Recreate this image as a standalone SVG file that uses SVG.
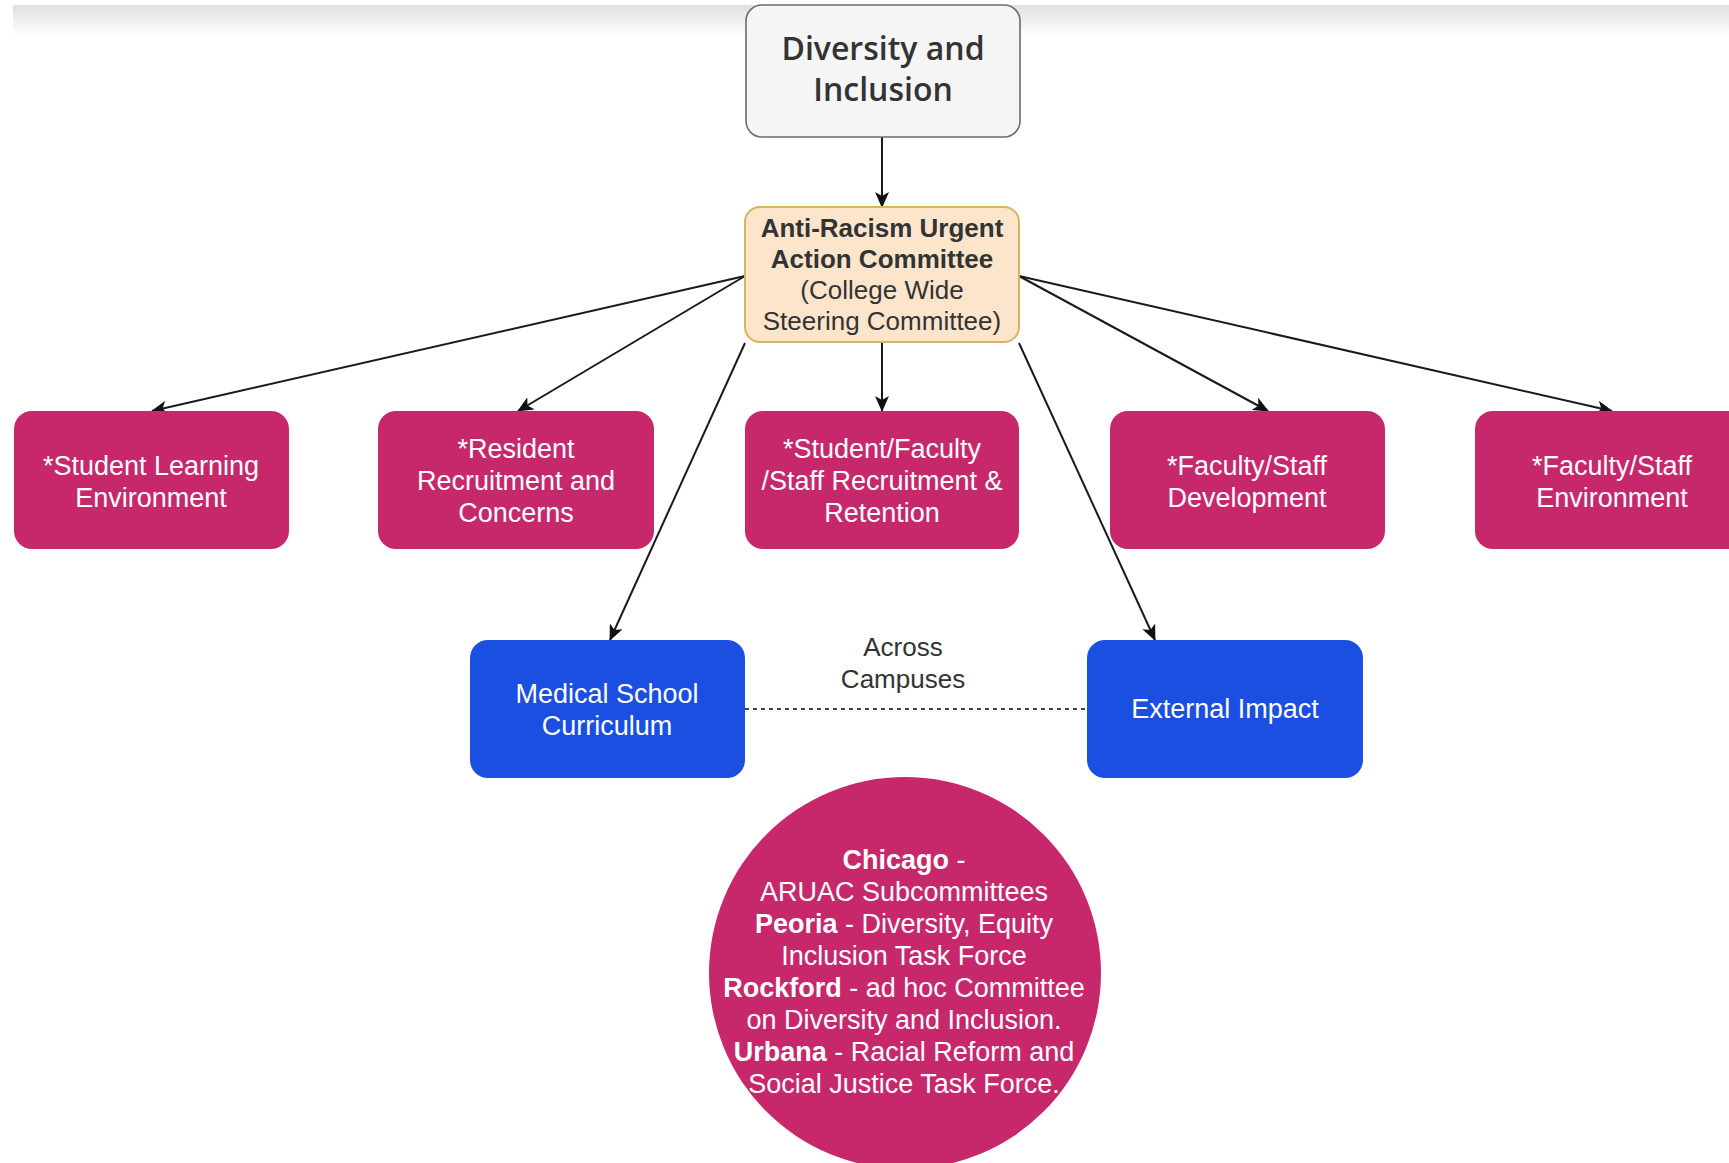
<svg xmlns="http://www.w3.org/2000/svg" width="1729" height="1163" viewBox="0 0 1729 1163">
<defs>
<linearGradient id="band" x1="0" y1="0" x2="0" y2="1">
<stop offset="0" stop-color="#e0e0e0"/>
<stop offset="1" stop-color="#ffffff"/>
</linearGradient>
<marker id="arr" viewBox="0 0 16 14" refX="15" refY="7" markerWidth="16" markerHeight="14" markerUnits="userSpaceOnUse" orient="auto">
<path d="M0,0 L16,7 L0,14 L4,7 z" fill="#111"/>
</marker>
<style>
.pink{fill:#c7286c;}
.blue{fill:#1b4fe2;}
.wt{font-family:"Liberation Sans",Arial,sans-serif;font-size:27px;fill:#ffffff;text-anchor:middle;}
.dk{font-family:"Liberation Sans",Arial,sans-serif;font-size:26px;fill:#333333;text-anchor:middle;}
.edge{stroke:#1a1a1a;stroke-width:2;fill:none;marker-end:url(#arr);}
.ttl{font-family:"Open Sans",sans-serif;font-weight:600;font-size:32px;fill:#333333;text-anchor:middle;}
</style>
</defs>
<rect x="0" y="0" width="1729" height="1163" fill="#ffffff"/>
<rect x="13" y="5" width="1716" height="32" fill="url(#band)"/>

<g id="connectors">
<line class="edge" x1="882" y1="137" x2="882" y2="207"/>
<line class="edge" x1="745" y1="276" x2="152" y2="411"/>
<line class="edge" x1="745" y1="276" x2="518" y2="411"/>
<line class="edge" x1="882" y1="343" x2="882" y2="411"/>
<line class="edge" x1="1019" y1="276" x2="1268" y2="411"/>
<line class="edge" x1="1019" y1="276" x2="1612" y2="411"/>
<line class="edge" x1="745" y1="343" x2="610" y2="640"/>
<line class="edge" x1="1019" y1="343" x2="1155" y2="640"/>
<line x1="745" y1="709" x2="1087" y2="709" stroke="#444" stroke-width="2" stroke-dasharray="4 4"/>
<text class="dk" x="903" y="656">Across</text>
<text class="dk" x="903" y="688">Campuses</text>
</g>

<g id="diversity">
<rect x="746" y="5" width="274" height="132" rx="16" fill="#f5f5f5" stroke="#6b6b6b" stroke-width="1.6"/>
<text class="ttl" x="883" y="60">Diversity and</text>
<text class="ttl" x="883" y="101">Inclusion</text>
</g>

<g id="aruac">
<rect x="745" y="207" width="274" height="135" rx="15" fill="#fde5cc" stroke="#d8b45a" stroke-width="2"/>
<text class="dk" x="882" y="237" font-weight="bold">Anti-Racism Urgent</text>
<text class="dk" x="882" y="268" font-weight="bold">Action Committee</text>
<text class="dk" x="882" y="299">(College Wide</text>
<text class="dk" x="882" y="330">Steering Committee)</text>
</g>

<g id="student-learning">
<rect class="pink" x="14" y="411" width="275" height="138" rx="18"/>
<text class="wt" x="151" y="475">*Student Learning</text>
<text class="wt" x="151" y="507">Environment</text>
</g>

<g id="resident">
<rect class="pink" x="378" y="411" width="276" height="138" rx="18"/>
<text class="wt" x="516" y="458">*Resident</text>
<text class="wt" x="516" y="490">Recruitment and</text>
<text class="wt" x="516" y="522">Concerns</text>
</g>

<g id="sfs-recruitment">
<rect class="pink" x="745" y="411" width="274" height="138" rx="18"/>
<text class="wt" x="882" y="458">*Student/Faculty</text>
<text class="wt" x="882" y="490">/Staff Recruitment &amp;</text>
<text class="wt" x="882" y="522">Retention</text>
</g>

<g id="fs-development">
<rect class="pink" x="1110" y="411" width="275" height="138" rx="18"/>
<text class="wt" x="1247" y="475">*Faculty/Staff</text>
<text class="wt" x="1247" y="507">Development</text>
</g>

<g id="fs-environment">
<rect class="pink" x="1475" y="411" width="275" height="138" rx="18"/>
<text class="wt" x="1612" y="475">*Faculty/Staff</text>
<text class="wt" x="1612" y="507">Environment</text>
</g>

<g id="curriculum">
<rect class="blue" x="470" y="640" width="275" height="138" rx="18"/>
<text class="wt" x="607" y="703">Medical School</text>
<text class="wt" x="607" y="735">Curriculum</text>
</g>

<g id="external">
<rect class="blue" x="1087" y="640" width="276" height="138" rx="18"/>
<text class="wt" x="1225" y="718">External Impact</text>
</g>

<g id="campuses">
<circle class="pink" cx="905" cy="973" r="196"/>
<text class="wt" x="904" y="869"><tspan font-weight="bold">Chicago</tspan> -</text>
<text class="wt" x="904" y="901">ARUAC Subcommittees</text>
<text class="wt" x="904" y="933"><tspan font-weight="bold">Peoria</tspan> - Diversity, Equity</text>
<text class="wt" x="904" y="965">Inclusion Task Force</text>
<text class="wt" x="904" y="997"><tspan font-weight="bold">Rockford</tspan> - ad hoc Committee</text>
<text class="wt" x="904" y="1029">on Diversity and Inclusion.</text>
<text class="wt" x="904" y="1061"><tspan font-weight="bold">Urbana</tspan> - Racial Reform and</text>
<text class="wt" x="904" y="1093">Social Justice Task Force.</text>
</g>
</svg>
